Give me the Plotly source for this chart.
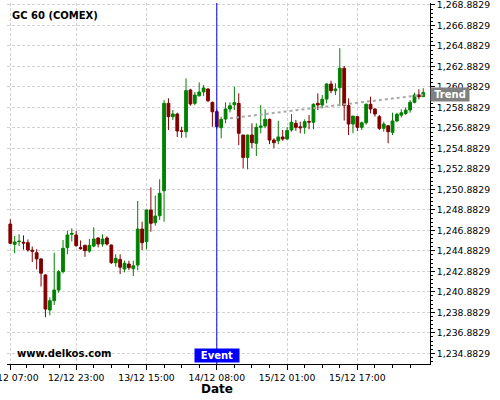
import plotly.graph_objects as go

# ---- categories: hourly bars (daily 22:00 session break skipped) ----
times = []
_day, _hour = 12, 7
while len(times) < 95:
    if _hour != 22:
        times.append(f"{_day:02d}/12 {_hour:02d}:00")
    _hour += 1
    if _hour == 24:
        _hour, _day = 0, _day + 1

# ---- OHLC series ----
open_ = [1247.50, 1245.52, 1245.78, 1245.72, 1245.68, 1244.95, 1244.70, 1244.10, 1242.53, 1239.11,
         1240.02, 1241.06, 1242.85, 1245.20, 1246.50, 1246.43, 1245.20, 1245.42, 1244.86, 1245.35,
         1246.14, 1245.55, 1246.14, 1245.45, 1243.73, 1244.05, 1243.11, 1243.60, 1243.14, 1243.50,
         1247.01, 1245.78, 1248.87, 1247.63, 1248.31, 1250.75, 1259.28, 1257.98, 1258.24, 1256.60,
         1256.51, 1260.58, 1259.28, 1260.02, 1260.40, 1260.68, 1259.38, 1258.47, 1256.90, 1257.75,
         1258.73, 1259.15, 1259.28, 1256.19, 1254.00, 1256.19, 1255.38, 1256.94, 1257.07, 1257.72,
         1255.70, 1255.63, 1256.00, 1255.80, 1256.68, 1257.33, 1256.99, 1256.94, 1257.50, 1257.43,
         1259.28, 1259.12, 1259.70, 1261.17, 1260.52, 1260.81, 1262.71, 1259.06, 1257.26, 1257.98,
         1256.94, 1257.39, 1259.19, 1258.73, 1257.98, 1256.84, 1257.10, 1256.45, 1257.56, 1258.13,
         1258.30, 1258.63, 1259.38, 1260.10, 1259.93]
high = [1247.96, 1246.33, 1246.50, 1246.40, 1246.00, 1245.30, 1245.05, 1244.15, 1242.60, 1240.35,
        1244.70, 1243.00, 1245.94, 1246.85, 1247.08, 1246.83, 1245.90, 1245.50, 1246.04, 1247.18,
        1246.20, 1246.50, 1246.30, 1245.50, 1244.55, 1244.55, 1243.92, 1243.92, 1243.92, 1249.75,
        1247.73, 1248.90, 1251.08, 1250.27, 1251.87, 1259.60, 1259.77, 1258.63, 1258.37, 1257.00,
        1261.72, 1260.70, 1260.40, 1261.33, 1261.07, 1260.75, 1259.45, 1258.70, 1257.98, 1259.38,
        1259.38, 1260.90, 1260.26, 1256.20, 1256.20, 1257.33, 1257.33, 1259.10, 1258.70, 1257.80,
        1255.87, 1257.58, 1256.68, 1256.97, 1258.24, 1257.66, 1257.49, 1257.72, 1258.14, 1259.28,
        1260.26, 1260.09, 1261.24, 1261.49, 1261.24, 1264.66, 1262.93, 1259.77, 1258.04, 1258.04,
        1257.50, 1259.28, 1259.93, 1258.80, 1258.14, 1257.49, 1257.15, 1258.37, 1258.37, 1258.70,
        1258.89, 1259.60, 1260.32, 1260.65, 1260.75]
low = [1245.55, 1244.64, 1245.35, 1245.00, 1244.80, 1243.80, 1243.08, 1241.40, 1238.40, 1238.59,
       1239.60, 1240.80, 1242.69, 1244.55, 1245.80, 1245.29, 1245.00, 1244.30, 1244.70, 1245.23,
       1245.23, 1245.29, 1245.40, 1243.60, 1243.34, 1242.62, 1242.79, 1243.00, 1242.43, 1243.00,
       1244.96, 1245.03, 1246.75, 1247.34, 1247.90, 1247.73, 1256.68, 1257.66, 1256.00, 1255.92,
       1255.92, 1259.05, 1259.10, 1259.95, 1260.00, 1259.40, 1257.00, 1256.80, 1255.87, 1257.33,
       1258.40, 1258.63, 1255.20, 1252.94, 1252.84, 1254.89, 1254.14, 1256.36, 1256.85, 1255.30,
       1254.90, 1255.30, 1255.63, 1255.70, 1256.51, 1256.60, 1256.36, 1256.30, 1256.75, 1256.75,
       1258.63, 1258.80, 1259.28, 1260.26, 1260.09, 1259.00, 1257.60, 1256.19, 1256.36, 1256.57,
       1256.68, 1257.20, 1258.30, 1257.98, 1256.68, 1256.51, 1255.38, 1256.19, 1257.43, 1257.90,
       1258.14, 1258.37, 1259.28, 1259.67, 1259.93]
close = [1245.62, 1245.75, 1245.82, 1245.65, 1244.97, 1244.85, 1244.10, 1242.70, 1239.20, 1240.02,
         1241.06, 1242.85, 1245.13, 1246.43, 1246.58, 1245.39, 1245.10, 1244.90, 1245.42, 1246.04,
         1245.55, 1246.04, 1245.55, 1243.73, 1244.15, 1243.28, 1243.67, 1243.24, 1243.43, 1247.01,
         1245.68, 1248.87, 1247.57, 1248.28, 1250.50, 1259.28, 1257.98, 1258.24, 1256.58, 1256.55,
         1260.52, 1259.22, 1260.09, 1260.38, 1260.78, 1259.54, 1258.46, 1257.00, 1257.72, 1258.73,
         1259.05, 1259.35, 1256.36, 1254.00, 1256.19, 1255.44, 1256.94, 1257.07, 1257.72, 1255.70,
         1255.44, 1256.00, 1255.80, 1256.62, 1257.43, 1256.94, 1256.90, 1257.49, 1257.45, 1259.19,
         1259.12, 1259.68, 1261.17, 1260.52, 1260.68, 1262.71, 1259.06, 1257.26, 1258.04, 1256.94,
         1257.39, 1259.19, 1258.73, 1258.24, 1256.84, 1257.26, 1256.51, 1257.56, 1258.21, 1258.36,
         1258.62, 1259.38, 1260.10, 1259.93, 1260.33]

# ---- axis labels / markers ----
tick_labels = ["12/12 07:00", "12/12 23:00", "13/12 15:00", "14/12 08:00", "15/12 01:00", "15/12 17:00"]
event_time = "14/12 08:00"
trend_times = ["14/12 11:00", "16/12 09:00"]
trend_values = [1257.82, 1260.12]
y_tick0 = 1234.8829
y_dtick = 2

GREEN = "#008000"
RED = "#800000"
FONT = "DejaVu Sans"

xi = list(range(len(times)))
pos = {t: i for i, t in enumerate(times)}
tick_idx = [pos[t] for t in tick_labels]
minor_idx = []
for a, b in zip(tick_idx[:-1], tick_idx[1:]):
    minor_idx += [a + (b - a) * k / 4 for k in (1, 2, 3)]
minor_idx += [tick_idx[-1] + 4 * k for k in (1, 2, 3)]

fig = go.Figure()
fig.add_trace(go.Candlestick(
    x=xi, open=open_, high=high, low=low, close=close,
    increasing=dict(line=dict(color=GREEN, width=1), fillcolor=GREEN),
    decreasing=dict(line=dict(color=RED, width=1), fillcolor=RED),
    whiskerwidth=0, hoverinfo="skip", showlegend=False,
))
fig.add_trace(go.Scatter(
    x=[pos[t] for t in trend_times], y=trend_values, mode="lines",
    line=dict(color="#a9a9a9", width=2, dash="dot"), hoverinfo="skip", showlegend=False,
))

fig.add_shape(type="line", xref="x", yref="paper", x0=pos[event_time], x1=pos[event_time],
              y0=0, y1=1, line=dict(color="#0000ff", width=1), layer="above")

grid = dict(showgrid=True, gridcolor="#d2d2d2", gridwidth=1, griddash="3px,2px")

fig.update_layout(
    width=500, height=400,
    margin=dict(l=7, r=70, t=3, b=36),
    paper_bgcolor="white", plot_bgcolor="white",
    showlegend=False, boxgap=0.1,
    font=dict(family=FONT, color="black"),
    xaxis=dict(
        range=[-0.75, 95.53], tickmode="array", tickvals=tick_idx, ticktext=tick_labels,
        ticks="outside", ticklen=5, tickcolor="black", tickwidth=1,
        showline=True, linecolor="black", linewidth=1, zeroline=False,
        tickfont=dict(family=FONT, size=9.3, color="black"), ticklabeloverflow="allow",
        minor=dict(tickvals=minor_idx, ticks="outside", ticklen=3, tickcolor="black", showgrid=False),
        rangeslider=dict(visible=False), automargin=False, **grid,
    ),
    yaxis=dict(
        side="right", range=[1233.84, 1269.075], tickmode="linear", tick0=y_tick0, dtick=y_dtick,
        tickformat=",.4f", ticks="outside", ticklen=4, tickcolor="black", tickwidth=1,
        showline=True, linecolor="black", linewidth=1, zeroline=False,
        tickfont=dict(family=FONT, size=9.3, color="black"), ticklabeloverflow="allow",
        minor=dict(tick0=y_tick0, dtick=0.4, ticks="outside", ticklen=2, tickcolor="black", showgrid=False),
        automargin=False, **grid,
    ),
)

fig.add_annotation(text="<b>GC 60 (COMEX)</b>", xref="paper", yref="paper", x=0.0071, y=0.964,
                   xanchor="left", yanchor="middle", showarrow=False,
                   font=dict(family=FONT, size=10, color="black"))
fig.add_annotation(text="<b>www.delkos.com</b>", xref="paper", yref="paper", x=0.019, y=0.03,
                   xanchor="left", yanchor="middle", showarrow=False,
                   font=dict(family=FONT, size=10, color="black"))
fig.add_annotation(text="<b>Date</b>", xref="paper", yref="paper", x=0.497, y=-0.0706,
                   xanchor="center", yanchor="middle", showarrow=False,
                   font=dict(family=FONT, size=12, color="black"))
fig.add_annotation(text="<b>Event</b>", xref="x", yref="paper", x=pos[event_time], y=0,
                   xanchor="center", yanchor="bottom", showarrow=False, width=44, height=13,
                   bgcolor="#0000ff", borderpad=0, yshift=1,
                   font=dict(family=FONT, size=10, color="white"))
fig.add_annotation(text="<b>Trend</b>", xref="paper", yref="y", x=1, y=trend_values[-1],
                   xanchor="left", yanchor="middle", showarrow=False, width=38, height=13,
                   bgcolor="#808080", borderpad=0,
                   font=dict(family=FONT, size=10, color="white"))

fig.write_html("out.html", config={"displayModeBar": False},
               post_script="document.body.style.margin='0';document.body.style.overflow='hidden';")
